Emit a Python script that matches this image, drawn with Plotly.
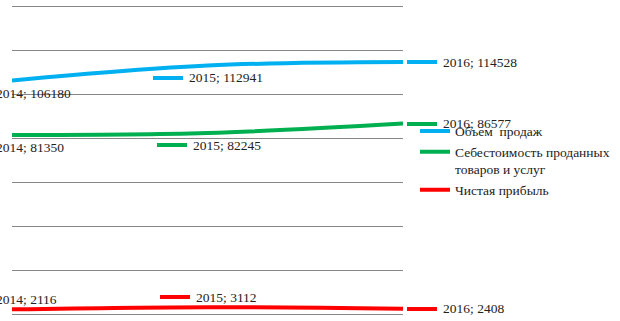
import plotly.graph_objects as go

years = [2014, 2015, 2016]
sales = [106180, 112941, 114528]
cost = [81350, 82245, 86577]
profit = [2116, 3112, 2408]
names = ["Объем  продаж", "Себестоимость проданных<br>товаров и услуг", "Чистая прибыль"]
colors = ["#00B0F0", "#00B050", "#FF0000"]
series = [sales, cost, profit]

# label placement per series/point: (key x offset px, y offset px)
label_pos = [
    [(-52, -13), (-55, -12), (4, 0)],
    [(-52, -12), (-51, -12), (4, 0)],
    [(-52, 10), (-48, 10), (4, 0)],
]

FONT = "Liberation Serif"
fig = go.Figure()
for vals, name, col in zip(series, names, colors):
    fig.add_trace(go.Scatter(x=years, y=vals, name=name, mode="lines",
                             line=dict(color=col, width=4, shape="spline", smoothing=1)))

ann = []
for vals, col, pos in zip(series, colors, label_pos):
    for xv, yv, (kx, ky) in zip(years, vals, pos):
        ann.append(dict(x=xv, y=yv, xref="x", yref="y", text=" ", showarrow=False,
                        xanchor="left", yanchor="middle", xshift=kx, yshift=ky,
                        width=30, height=4, bgcolor=col, borderpad=0, borderwidth=0,
                        font=dict(size=1)))
        ann.append(dict(x=xv, y=yv, xref="x", yref="y", text=f"{xv}; {yv}", showarrow=False,
                        xanchor="left", yanchor="middle", xshift=kx + 34, yshift=ky,
                        font=dict(family=FONT, size=13.5, color="#222222")))

fig.update_layout(
    width=620, height=321,
    margin=dict(l=12, r=217, t=3, b=2),
    paper_bgcolor="white", plot_bgcolor="white",
    showlegend=True,
    legend=dict(x=1.0307, xanchor="left", y=0.643, yanchor="top",
                font=dict(family=FONT, size=13.5, color="#222222"),
                valign="top", bgcolor="rgba(0,0,0,0)", tracegroupgap=0),
    xaxis=dict(range=[2014, 2016], showgrid=False, showticklabels=False,
               zeroline=False, showline=False, ticks=""),
    yaxis=dict(range=[-2273, 141364], tick0=0, dtick=20000, showgrid=True, gridcolor="#868686",
               gridwidth=1, showticklabels=False, zeroline=True, zerolinecolor="#868686",
               zerolinewidth=1, showline=False, ticks=""),
    annotations=ann,
)
fig.write_html("out.html")
